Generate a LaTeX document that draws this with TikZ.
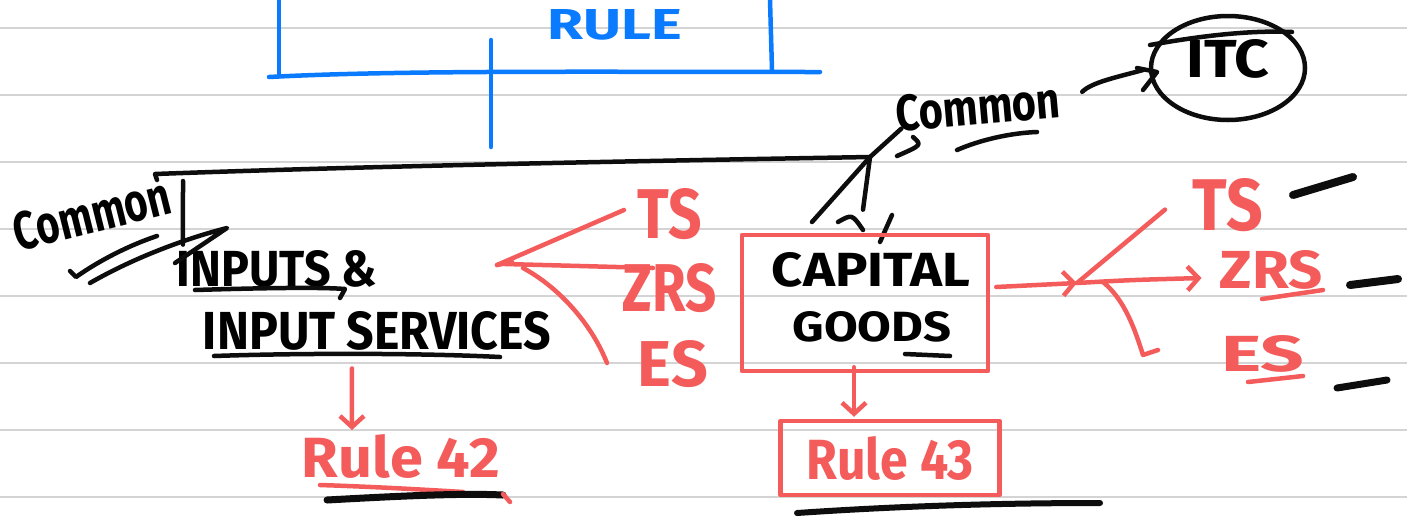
\documentclass[tikz,border=0pt]{standalone}
\usepackage{fontspec}
\setmainfont{Fira Sans}
\usepackage{graphicx}
\usetikzlibrary{arrows.meta,shapes.geometric,calc}
\definecolor{pen}{HTML}{0D0D0D}
\definecolor{ink}{HTML}{F45B5B}
\definecolor{blu}{HTML}{0A7BFF}
\definecolor{rul}{HTML}{D4D4D4}
\newcommand\hw[3]{\resizebox{#1pt}{#2pt}{\bfseries #3}}
\begin{document}
\begin{tikzpicture}[x=1pt,y=-1pt,line cap=round,line join=round,
  blk/.style={draw=pen,line width=4.5pt},
  redpen/.style={draw=ink,line width=4.5pt},
  bluepen/.style={draw=blu,line width=4.5pt},
  txt/.style={inner sep=0pt,outer sep=0pt},
  head/.style={-{Straight Barb[length=11pt,width=24pt]}},
  ruling/.style={draw=rul,line width=2pt}
]
\useasboundingbox[fill=white] (0,0) rectangle (1407,517);
% ruled paper
\foreach \k in {0,...,7}{\draw[ruling] (0,28+67*\k) -- (1407,28+67*\k);}

% ---- blue RULE bracket
\node[txt,text=blu] (rule) at (615,25) {\hw{134}{30}{RULE}};
\coordinate (bl) at (269,77);
\coordinate (br) at (820,72);
\coordinate (bm) at (491,75);
\coordinate (bdown) at (491,147);
\draw[bluepen] (279,0) -- (279,76);
\draw[bluepen] (770,0) -- (772,70);
\draw[bluepen] (bl) .. controls (400,70) and (600,72) .. (br);
\draw[bluepen] (491,40) -- (bm) -- (bdown);

% ---- black texts
\node[txt,rotate=14] (common1) at (92,214) {\hw{160}{38}{Common}};
\node[txt] (inputs1) at (277,269) {\hw{200}{36}{INPUTS \&}};
\node[txt] (inputs2) at (377,331) {\hw{348}{38}{INPUT SERVICES}};
\node[txt,rotate=5] (common2) at (978,107) {\hw{165}{36}{Common}};
\node[txt] (itctext) at (1228,59) {\hw{83}{38}{ITC}};
\node[draw=pen,line width=4.5pt,ellipse,minimum width=154pt,minimum height=104pt] (itc) at (1228,68) {};
\node[txt] (capital) at (871,270) {\hw{198}{34}{CAPITAL}};
\node[txt] (goods) at (872,327) {\hw{159}{30}{GOODS}};

% underlines
\draw[blk] (195,290) .. controls (260,288) and (320,287) .. (345,289) -- (340,298);
\draw[blk] (214,356) .. controls (300,353) and (420,353) .. (500,357);
\draw[blk] (905,354) -- (950,356);

% ---- top black line and its arrows
\coordinate (tl) at (155,174);
\coordinate (j1) at (870,157);
\draw[blk] (157,180) -- (tl) .. controls (400,165) and (700,160) .. (j1);
\coordinate (tv) at (183,181);
\draw[blk] (tv) -- ($(inputs1.north west)+(6,-6)$);
% "Common" arrow to INPUTS
\draw[blk] (70,271) -- (76,277) .. controls (100,260) and (130,245) .. (157,236);
\draw[blk] (90,283) .. controls (130,260) and (180,240) .. (227,228) -- (175,263);
% Common (right) to the line and to ITC
\draw[blk] ($(common2.south west)+(4,-4)$) -- (j1);
\draw[blk] (913,137) .. controls (922,145) .. (897,156);
\draw[blk] (957,150) .. controls (980,140) and (1010,133) .. (1037,132);
\draw[blk] ($(common2.east)+(22,-8)$) .. controls (1092,82) and (1118,77) .. (1143,70);
\draw[blk] (1137,68) -- (1157,72) -- (1143,90);
\draw[blk] (1150,45) .. controls (1200,36) and (1250,30) .. (1292,32);
% line down to capital goods
\draw[blk] (j1) -- (812,222);
\draw[blk] (j1) -- ($(goods.north)+(-9,-102)$);
\draw[blk] (838,222) .. controls (852,214) .. (863,230);
\draw[blk] (892,215) -- (880,242);

% ---- red items
\node[draw=ink,line width=4.5pt,minimum width=246pt,minimum height=136pt] (cg) at (865,303) {};
\node[txt,text=ink] (ts1) at (670,214) {\hw{64}{50}{TS}};
\node[txt,text=ink] (zrs1) at (670,288) {\hw{94}{48}{ZRS}};
\node[txt,text=ink] (es1) at (673,364) {\hw{70}{46}{ES}};
\node[txt,text=ink] (ts2) at (1228,205) {\hw{70}{52}{TS}};
\node[txt,text=ink] (zrs2) at (1271,270) {\hw{103}{38}{ZRS}};
\node[txt,text=ink] (es2) at (1263,354) {\hw{83}{36}{ES}};
\node[txt,text=ink] (r42) at (401,456) {\hw{198}{43}{Rule 42}};
\node[draw=ink,line width=4.5pt,inner xsep=26pt,inner ysep=15pt,text=ink] (r43) at (890,458) {\hw{167}{43}{Rule 43}};

% left convergence to INPUTS
\coordinate (cvl) at (497,265);
\draw[redpen] ($(ts1.west)+(-14,-4)$) -- (cvl);
\draw[redpen] ($(zrs1.west)+(30,-20)$) .. controls (580,266) .. (505,264);
\draw[redpen] ($(es1.west)+(-31,-1)$) .. controls (590,320) and (555,285) .. (523,268);
\draw[redpen] (cvl) -- (512,262);

% right fan-out
\coordinate (jr) at (1077,283);
\draw[redpen,head] ($(cg.east)+(6,-16)$) -- (jr);
\draw[redpen] (jr) -- ($(ts2.south west)+(-28,-22)$);
\draw[redpen,head] (jr) .. controls (1130,280) .. ($(zrs2.west)+(-18,8)$);
\draw[redpen] ($(jr)+(26,-1)$) .. controls (1125,300) and (1135,330) .. (1143,355) -- (1158,350);
\draw[redpen] (1262,299) -- (1323,290);
\draw[redpen] (1248,382) -- (1303,376);

% down arrows to rules
\draw[redpen,head] ($(inputs2.south west)+(149,18)$) -- ($(r42.north west)+(50,-4)$);
\draw[redpen,head] ($(cg.south)+(-11,-6)$) -- ($(r43.north)+(-36,-2)$);
\draw[redpen] (320,485) .. controls (380,487) and (430,490) .. (463,492);
\draw[blk,line width=7pt] (327,500) .. controls (400,496) and (460,493) .. (503,495);
\draw[redpen] (503,494) -- (510,502);
\draw[blk,line width=6pt] (797,513) .. controls (900,506) and (1000,503) .. (1100,503);

% black dashes on the right
\draw[blk,line width=8pt] (1293,195) -- (1353,177);
\draw[blk,line width=8pt] (1350,285) -- (1398,279);
\draw[blk,line width=7pt] (1337,388) -- (1387,380);
\end{tikzpicture}
\end{document}
